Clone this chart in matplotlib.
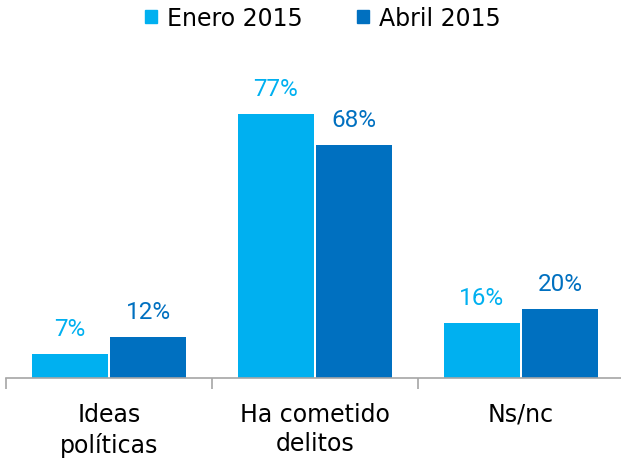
import numpy as np
import matplotlib.pyplot as plt
from matplotlib.patches import Patch

categorias = ['Ideas\npolíticas', 'Ha cometido\ndelitos', 'Ns/nc']
enero = [7, 77, 16]
abril = [12, 68, 20]
series = ['Enero 2015', 'Abril 2015']
colores = ['#00B0F0', '#0070C0']

plt.rcParams['font.family'] = ['DejaVu Sans']
fuente_num = ['Liberation Sans Narrow', 'Roboto', 'DejaVu Sans']

fig = plt.figure(figsize=(6.21, 4.6), dpi=100)
ax = fig.add_axes([0.0097, 0.176, 0.995, 0.597])

x = np.arange(len(categorias))
w = 0.37
b1 = ax.bar(x - 0.19, enero, w, color=colores[0])
b2 = ax.bar(x + 0.19, abril, w, color=colores[1])

for bars, col in [(b1, colores[0]), (b2, colores[1])]:
    for r in bars:
        ax.annotate(f'{r.get_height():.0f}%', (r.get_x() + r.get_width() / 2, r.get_height()),
                    xytext=(0, 10), textcoords='offset points', ha='center', va='bottom',
                    fontsize=17.5, color=col, family=fuente_num)

ax.set_xlim(-0.5, 2.5)
ax.set_ylim(0, 80)
ax.set_yticks([])
ax.set_xticks(x)
ax.set_xticklabels(categorias, fontsize=17, linespacing=1.3)
ax.set_xticks([-0.5, 0.5, 1.5, 2.5], minor=True)
ax.tick_params(axis='x', which='major', length=0, pad=17)
ax.tick_params(axis='x', which='minor', length=8, color='#A6A6A6', width=1.2)
for s in ['top', 'right', 'left']:
    ax.spines[s].set_visible(False)
ax.spines['bottom'].set_color('#A6A6A6')
ax.spines['bottom'].set_linewidth(1.2)

handles = [Patch(color=c, label=l) for c, l in zip(colores, series)]
fig.legend(handles=handles, loc='center', bbox_to_anchor=(0.52, 1 - 19 / 460), ncol=2,
           frameon=False, fontsize=17, handlelength=0.51, handleheight=0.51,
           handletextpad=0.42, columnspacing=2.3, borderpad=0)

fig.savefig('out.png', dpi=100)
